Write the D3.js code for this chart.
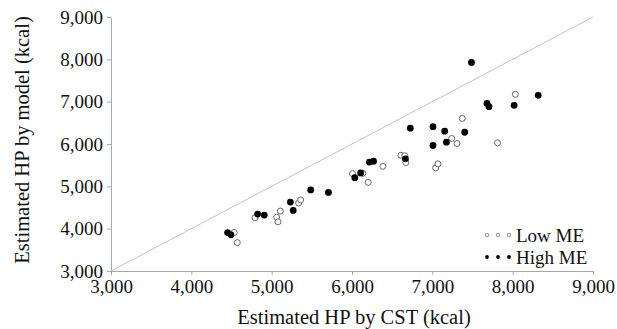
<!DOCTYPE html>
<html>
<head>
<meta charset="utf-8">
<script src="https://cdn.jsdelivr.net/npm/d3@7"></script>
<style>
  body { margin: 0; background: #fff; }
  svg text { font-family: "Liberation Serif", "DejaVu Serif", serif; fill: #111; }
</style>
</head>
<body>
<div id="chart"></div>
<script>
// Low ME: estimated HP by CST (x) vs by model (y), kcal
const lowX = [4534, 4572, 4792, 5062, 5079, 5108, 5336, 5361, 6006, 6135, 6202, 6384,
              6609, 6658, 6670, 7041, 7070, 7241, 7307, 7372, 7811, 8033]
const lowY = [3908, 3671, 4257, 4273, 4162, 4416, 4605, 4679, 5300, 5307, 5094, 5473,
              5734, 5722, 5561, 5435, 5530, 6130, 6012, 6604, 6028, 7174]
// High ME
const highX = [4451, 4493, 4825, 4908, 5233, 5268, 5486, 5707, 6035, 6108, 6216, 6268,
               6665, 6726, 7008, 7008, 7154, 7175, 7403, 7487, 7680, 7705, 8018, 8318]
const highY = [3908, 3854, 4345, 4321, 4629, 4430, 4914, 4857, 5205, 5317, 5573, 5592,
               5649, 6374, 6410, 5964, 6303, 6042, 6277, 7925, 6960, 6882, 6913, 7150]
const ticks = [3000, 4000, 5000, 6000, 7000, 8000, 9000]
const seriesNames = ["Low ME", "High ME"]

const width = 617, height = 329
const plot = {left: 111, right: 593, top: 17, bottom: 271}

const svg = d3.select("#chart").append("svg")
  .attr("width", width)
  .attr("height", height)

const x = d3.scaleLinear().domain([3000, 9000]).range([plot.left, plot.right])
const y = d3.scaleLinear().domain([3000, 9000]).range([plot.bottom, plot.top])
const fmt = d3.format(",")

// 1:1 line
svg.append("line")
  .attr("x1", x(3000)).attr("y1", y(3000))
  .attr("x2", x(9000)).attr("y2", y(9000))
  .attr("stroke", "#c4c4c4")
  .attr("stroke-width", 1)

// axes
const xAxis = svg.append("g")
  .attr("transform", `translate(0,${plot.bottom})`)
  .call(d3.axisBottom(x).tickValues(ticks).tickFormat(fmt).tickSizeInner(4).tickSizeOuter(0).tickPadding(4))
const yAxis = svg.append("g")
  .attr("transform", `translate(${plot.left},0)`)
  .call(d3.axisLeft(y).tickValues(ticks).tickFormat(fmt).tickSizeInner(4).tickSizeOuter(0).tickPadding(4))

for (const ax of [xAxis, yAxis]) {
  ax.select(".domain").attr("stroke", "#a8a8a8")
  ax.selectAll(".tick line").attr("stroke", "#a8a8a8")
  ax.selectAll(".tick text")
    .attr("font-size", "19px")
    .attr("font-family", "Liberation Serif, serif")
    .attr("fill", "#111")
}
xAxis.selectAll(".tick text").attr("dy", "0.75em")

// axis titles
svg.append("text")
  .text("Estimated HP by CST (kcal)")
  .attr("x", (plot.left + plot.right) / 2 + 2)
  .attr("y", 324)
  .attr("text-anchor", "middle")
  .attr("font-size", "20.5px")

svg.append("text")
  .text("Estimated HP by model (kcal)")
  .attr("transform", `translate(29,${(plot.top + plot.bottom) / 2 - 4}) rotate(-90)`)
  .attr("text-anchor", "middle")
  .attr("font-size", "20.5px")

// points
svg.append("g").selectAll("circle.low")
  .data(d3.zip(lowX, lowY)).enter()
  .append("circle")
  .classed("low", true)
  .attr("cx", (d) => x(d[0]))
  .attr("cy", (d) => y(d[1]))
  .attr("r", 3)
  .attr("fill", "#fff")
  .attr("stroke", "#6a6a6a")
  .attr("stroke-width", 1)

svg.append("g").selectAll("circle.high")
  .data(d3.zip(highX, highY)).enter()
  .append("circle")
  .classed("high", true)
  .attr("cx", (d) => x(d[0]))
  .attr("cy", (d) => y(d[1]))
  .attr("r", 3.4)
  .attr("fill", "#000")

// legend
const legend = svg.append("g").attr("transform", "translate(487,235)")
seriesNames.forEach((name, i) => {
  const row = legend.append("g").attr("transform", `translate(0,${i * 22})`)
  row.selectAll("circle")
    .data([0, 11, 22]).enter()
    .append("circle")
    .attr("cx", (d) => d)
    .attr("cy", 0)
    .attr("r", i === 0 ? 1.8 : 1.9)
    .attr("fill", i === 0 ? "#fff" : "#000")
    .attr("stroke", i === 0 ? "#777" : "none")
    .attr("stroke-width", 0.8)
  row.append("text")
    .text(name)
    .attr("x", 29)
    .attr("y", 0)
    .attr("dy", "0.35em")
    .attr("font-size", "19px")
})
</script>
</body>
</html>
